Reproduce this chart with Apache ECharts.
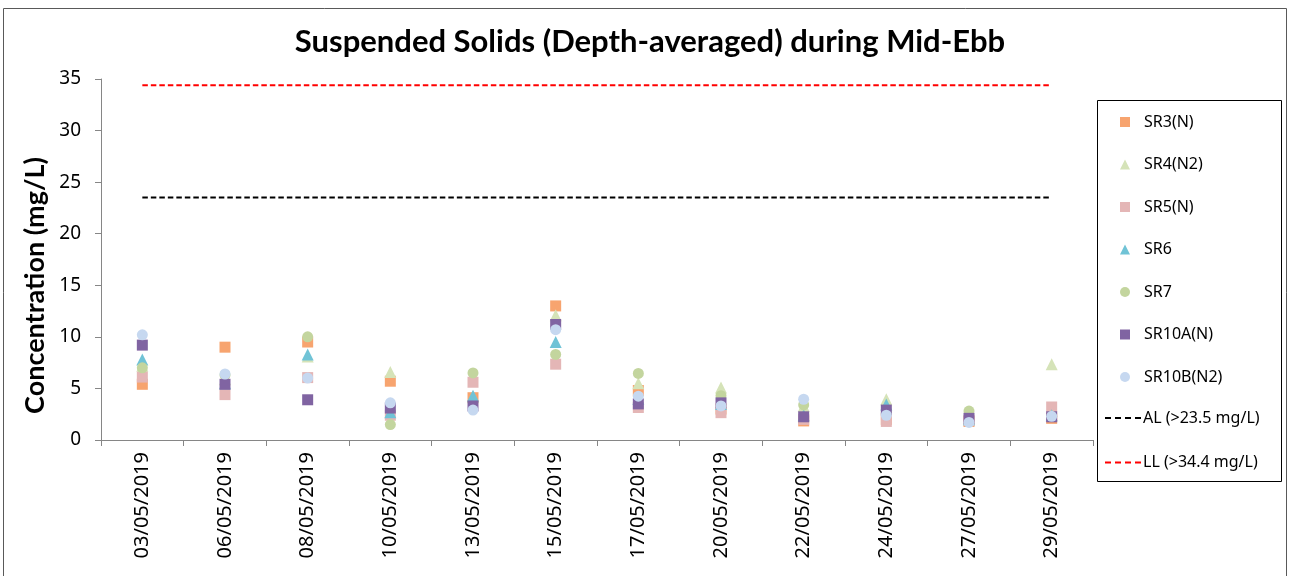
<!DOCTYPE html>
<html>
<head>
<meta charset="utf-8">
<script src="https://cdn.jsdelivr.net/npm/echarts@6/dist/echarts.min.js"></script>
<style>
  html, body { margin: 0; padding: 0; background: #ffffff; }
  #chart { width: 1290px; height: 576px; }
</style>
</head>
<body>
<div id="chart"></div>
<script>
// Sampling dates (category axis)
const dates = ['03/05/2019', '06/05/2019', '08/05/2019', '10/05/2019', '13/05/2019', '15/05/2019',
               '17/05/2019', '20/05/2019', '22/05/2019', '24/05/2019', '27/05/2019', '29/05/2019'];

// Depth-averaged suspended solids per station (mg/L)
const sr3   = [5.4, 9.0, 9.5, 5.7, 4.1, 13.0, 4.8, 3.0, 1.85, 2.0, 1.8, 2.1];
const sr4   = [7.2, 5.9, 8.1, 6.6, 4.2, 12.1, 5.5, 5.1, 3.3, 3.95, 2.2, 7.35];
const sr5   = [6.1, 4.4, 6.05, 2.4, 5.6, 7.35, 3.15, 2.65, 2.0, 1.8, 1.9, 3.2];
const sr6   = [7.8, 5.5, 8.3, 2.7, 4.3, 9.5, 4.0, 3.5, 2.4, 3.45, 2.0, 2.4];
const sr7   = [7.0, 6.3, 10.0, 1.5, 6.5, 8.3, 6.45, 4.3, 3.4, 2.6, 2.8, 2.3];
const sr10a = [9.2, 5.4, 3.9, 3.1, 3.3, 11.2, 3.5, 3.6, 2.25, 2.9, 2.1, 2.25];
const sr10b = [10.2, 6.4, 6.0, 3.6, 2.9, 10.7, 4.25, 3.3, 3.95, 2.4, 1.7, 2.3];

// Action and limit levels (mg/L)
const actionLevel = 23.5;
const limitLevel = 34.4;

// Y axis ticks
const yMin = 0, yMax = 35, yStep = 5;

const stations = [
  { name: 'SR3(N)',     data: sr3,   symbol: 'rect',     color: '#F7A46F', size: 11 },
  { name: 'SR4(N2)',    data: sr4,   symbol: 'triangle', color: '#D5E3B8', size: 12 },
  { name: 'SR5(N)',     data: sr5,   symbol: 'rect',     color: '#E4B6B6', size: 11 },
  { name: 'SR6',        data: sr6,   symbol: 'triangle', color: '#70C3D6', size: 12 },
  { name: 'SR7',        data: sr7,   symbol: 'circle',   color: '#C3D59E', size: 11 },
  { name: 'SR10A(N)',   data: sr10a, symbol: 'rect',     color: '#8064A2', size: 11 },
  { name: 'SR10B(N2)',  data: sr10b, symbol: 'circle',   color: '#C6D8F0', size: 11 }
];

const levelLines = [
  { name: 'AL (>23.5 mg/L)', value: actionLevel, color: '#000000' },
  { name: 'LL (>34.4 mg/L)', value: limitLevel,  color: '#FF0000' }
];

// dashed stroke used as the legend icon of the level lines
const dashIcon = 'path://M0,0h6v2h-6z M10,0h6v2h-6z M20,0h6v2h-6z M30,0h6v2h-6z';

const series = stations.map(s => ({
  name: s.name,
  type: 'scatter',
  data: s.data,
  symbol: s.symbol,
  symbolSize: s.size,
  itemStyle: { color: s.color, opacity: 1 },
  emphasis: { disabled: true }
})).concat(levelLines.map(l => ({
  name: l.name,
  type: 'line',
  data: dates.map(() => l.value),
  symbol: 'none',
  lineStyle: { color: l.color, width: 2, type: [5.5, 3] },
  itemStyle: { color: l.color },
  emphasis: { disabled: true }
})));

const legendText = { fontFamily: 'Noto Sans', fontSize: 16, lineHeight: 14, color: '#000000' };

const chart = echarts.init(document.getElementById('chart'), null, { renderer: 'canvas' });

chart.setOption({
  animation: false,
  backgroundColor: '#ffffff',
  title: {
    text: 'Suspended Solids (Depth-averaged) during Mid-Ebb',
    left: 645,
    textAlign: 'center',
    top: 21,
    textStyle: { fontFamily: 'Lato', fontWeight: 'bold', fontSize: 31, color: '#000000' }
  },
  graphic: [{
    type: 'rect',
    shape: { x: 3.5, y: 8.5, width: 1283, height: 600 },
    style: { fill: 'none', stroke: '#595959', lineWidth: 1 },
    silent: true,
    z: -1
  }, {
    type: 'rect',
    shape: { x: 1097.5, y: 100.5, width: 184, height: 381 },
    style: { fill: '#ffffff', stroke: '#000000', lineWidth: 1 },
    silent: true,
    z: 0
  }],
  legend: [{
    orient: 'vertical',
    left: 1120,
    top: 114,
    padding: 0,
    itemWidth: 10,
    itemHeight: 10,
    itemGap: 26.5,
    selectedMode: false,
    textStyle: Object.assign({ padding: [0, 0, 0, 9] }, legendText),
    data: stations.map(s => ({ name: s.name, icon: s.symbol }))
  }, {
    orient: 'vertical',
    left: 1105,
    top: 410,
    padding: 0,
    itemWidth: 38,
    itemHeight: 2,
    itemGap: 28.5,
    selectedMode: false,
    textStyle: Object.assign({ padding: [0, 0, 0, -4] }, legendText),
    data: levelLines.map(l => ({ name: l.name, icon: dashIcon }))
  }],
  grid: { left: 101, right: 197, top: 79, bottom: 136, containLabel: false },
  xAxis: {
    type: 'category',
    data: dates,
    boundaryGap: true,
    axisLine: { lineStyle: { color: '#868686', width: 1 } },
    axisTick: { show: true, length: 6, lineStyle: { color: '#868686' } },
    axisLabel: { rotate: 90, margin: 12, fontFamily: 'Noto Sans', fontSize: 20, color: '#000000', interval: 0 },
    splitLine: { show: false }
  },
  yAxis: {
    type: 'value',
    min: yMin,
    max: yMax,
    interval: yStep,
    name: 'Concentration (mg/L)',
    nameLocation: 'middle',
    nameGap: 37,
    nameTextStyle: { fontFamily: 'Lato', fontWeight: 'bold', fontSize: 27, color: '#000000', padding: [0, 52, 0, 0] },
    axisLine: { show: true, lineStyle: { color: '#868686', width: 1 } },
    axisTick: { show: true, length: 6, lineStyle: { color: '#868686' } },
    axisLabel: { margin: 20, fontFamily: 'Noto Sans', fontSize: 19, color: '#000000' },
    splitLine: { show: false }
  },
  series: series
});
</script>
</body>
</html>
